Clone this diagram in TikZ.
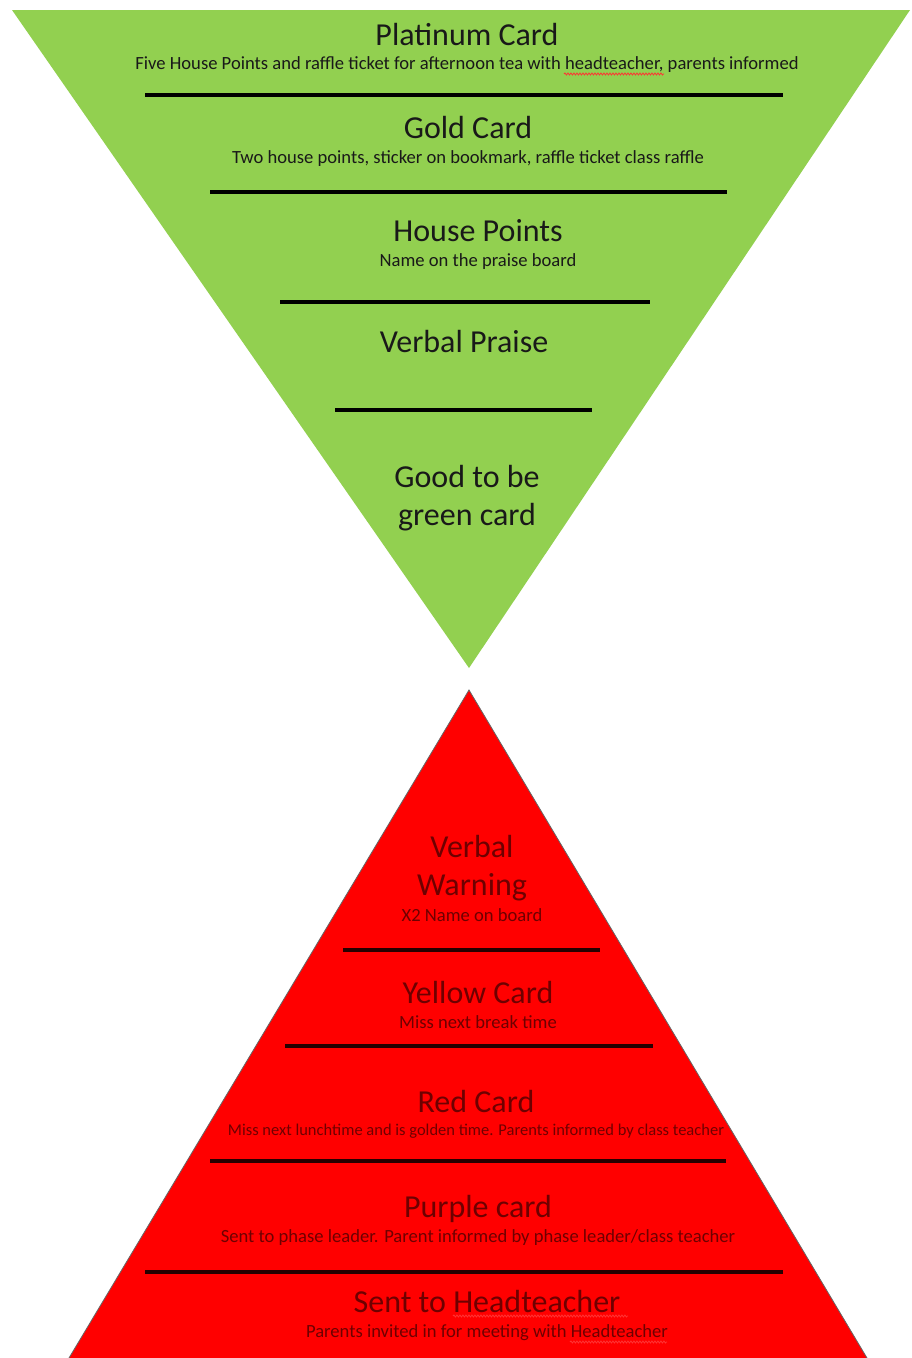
\documentclass[tikz,border=0pt]{standalone}
\usepackage{fontspec}
\setmainfont{Carlito}
\usetikzlibrary{decorations.pathmorphing}
\definecolor{grn}{HTML}{92D050}
\definecolor{rd}{HTML}{FF0000}
\definecolor{dkred}{HTML}{6E0000}
\tikzset{
  title/.style={anchor=base,inner sep=0pt,font=\fontsize{32}{36}\selectfont},
  sub/.style={anchor=base,inner sep=0pt,font=\fontsize{18.6}{21}\selectfont},
  smallsub/.style={anchor=base,inner sep=0pt,font=\fontsize{16.5}{19}\selectfont},
  gtxt/.style={text=black!90},
  rtxt/.style={text=dkred},
  divider/.style={line width=4pt,black},
  rdivider/.style={line width=4pt,black!85!red},
  spell/.style={red!80!white,line width=0.8pt,decorate,decoration={snake,amplitude=1pt,segment length=3pt}}
}
\begin{document}
\begin{tikzpicture}[x=1pt,y=-1pt]
\useasboundingbox (0,0) rectangle (912,1358);
% triangles
\coordinate (gtl) at (12,10);
\coordinate (gtr) at (910,10);
\coordinate (gap) at (469,668);
\fill[grn] (gtl) -- (gtr) -- (gap) -- cycle;
\coordinate (rap) at (469,690);
\coordinate (rbl) at (69,1358);
\coordinate (rbr) at (867,1358);
\fill[rd] (rap) -- (rbr) -- (rbl) -- cycle;
\draw[black!60,line width=0.8pt] (rbl) -- (rap) -- (rbr);
% green dividers
\foreach \n/\xa/\xb/\yy in {g1/145/783/95, g2/210/727/192, g3/280/650/302, g4/335/592/410}{
  \coordinate (\n a) at (\xa,\yy);
  \coordinate (\n b) at (\xb,\yy);
  \draw[divider] (\n a) -- (\n b);
}
% red dividers
\foreach \n/\xa/\xb/\yy in {r1/343/600/950, r2/285/653/1046, r3/210/726/1161, r4/145/783/1272}{
  \coordinate (\n a) at (\xa,\yy);
  \coordinate (\n b) at (\xb,\yy);
  \draw[rdivider] (\n a) -- (\n b);
}
% green texts
\node[title,gtxt] (plat) at (467,45) {Platinum Card};
\node[sub,gtxt] (platsub) at (467,69) {Five House Points and raffle ticket for afternoon tea with headteacher, parents informed};
\node[title,gtxt] (gold) at (468,138) {Gold Card};
\node[sub,gtxt] (goldsub) at (468,163) {Two house points, sticker on bookmark, raffle ticket class raffle};
\node[title,gtxt] (house) at (478,241) {House Points};
\node[sub,gtxt] (housesub) at (478,266) {Name on the praise board};
\node[title,gtxt] (vpraise) at (464,352) {Verbal Praise};
\node[title,gtxt] (good1) at (467,487) {Good to be};
\node[title,gtxt] (good2) at (467,525) {green card};
% red texts
\node[title,rtxt] (vw1) at (472,857) {Verbal};
\node[title,rtxt] (vw2) at (472,895) {Warning};
\node[sub,rtxt] (vwsub) at (472,921) {X2 Name on board};
\node[title,rtxt] (yel) at (478,1003) {Yellow Card};
\node[sub,rtxt] (yelsub) at (478,1028) {Miss next break time};
\node[title,rtxt] (redc) at (476,1112) {Red Card};
\node[smallsub,rtxt] (redsub) at (476,1135) {Miss next lunchtime and is golden time. Parents informed by class teacher};
\node[title,rtxt] (purp) at (478,1217) {Purple card};
\node[sub,rtxt] (purpsub) at (478,1242) {Sent to phase leader. Parent informed by phase leader/class teacher};
\node[title,rtxt] (head) at (487,1312) {Sent to Headteacher};
\node[sub,rtxt] (headsub) at (487,1337) {Parents invited in for meeting with Headteacher};
% spell-check underlines
\coordinate (s1a) at (564,74); \coordinate (s1b) at (664,74);
\draw[spell] (s1a) -- (s1b);
\coordinate (s2a) at (453,1316); \coordinate (s2b) at (628,1316);
\draw[spell] (s2a) -- (s2b);
\coordinate (s3a) at (570,1342); \coordinate (s3b) at (667,1342);
\draw[spell] (s3a) -- (s3b);
\end{tikzpicture}
\end{document}
